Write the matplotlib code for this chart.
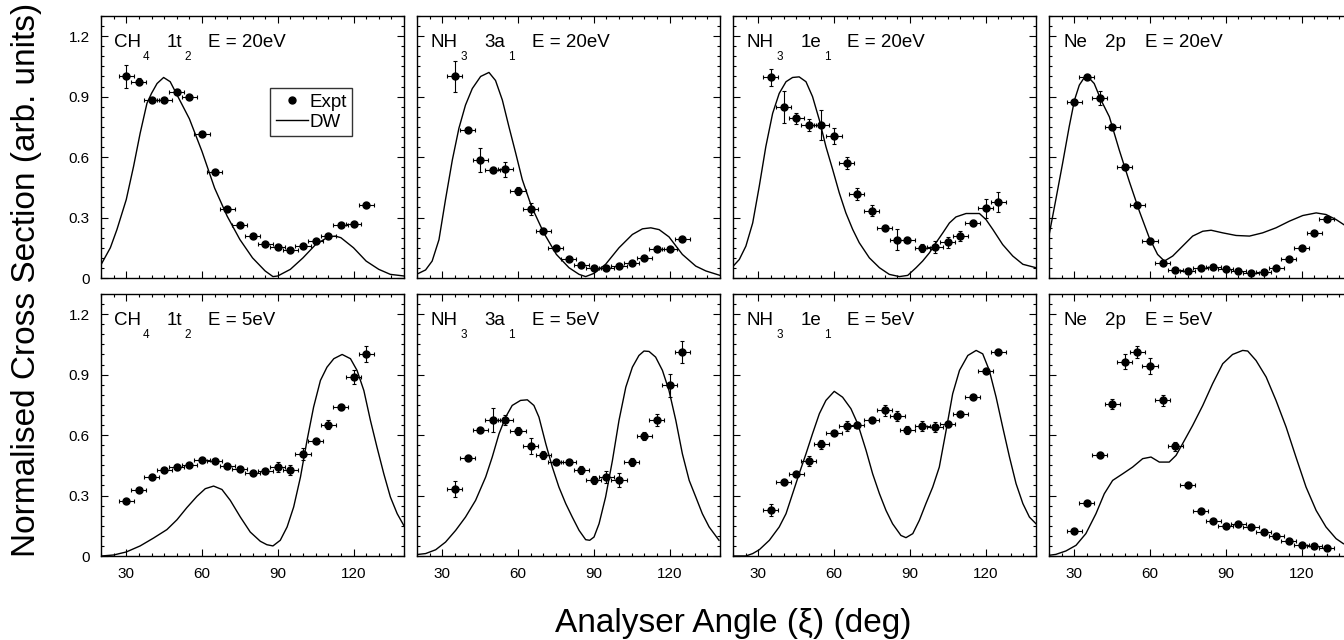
"""(e,2e) triple differential cross sections: CH4, NH3 and Ne outer orbitals.

Top row E = 20 eV, bottom row E = 5 eV. Points are experiment, line is DW theory.
"""

import numpy as np
import matplotlib
matplotlib.use("Agg")
import matplotlib.pyplot as plt
from matplotlib.lines import Line2D
from matplotlib.ticker import MultipleLocator, FuncFormatter

plt.rcParams["font.family"] = ["Liberation Sans", "DejaVu Sans"]

ANG_RES = 3.0  # angular resolution (deg), drawn as horizontal error bars

# ---- CH4 1t2, 20 eV ----
ch4_20_x = [30, 35, 40, 45, 50, 55, 60, 65, 70, 75, 80, 85, 90, 95, 100, 105, 110, 115, 120, 125]
ch4_20_y = [1.00, 0.975, 0.883, 0.883, 0.924, 0.896, 0.715, 0.524, 0.343, 0.264, 0.208, 0.168,
            0.155, 0.138, 0.161, 0.185, 0.208, 0.264, 0.267, 0.364]
ch4_20_e = [0.055, 0.015, 0.012, 0.010, 0.015, 0.010, 0.010, 0.010, 0.010, 0.010, 0.010, 0.010,
            0.010, 0.010, 0.010, 0.010, 0.012, 0.010, 0.010, 0.010]
ch4_20_dw_x = [20.1, 23.7, 26.3, 30, 32.9, 35.5, 38.2, 40, 42.2, 44.8, 47.4, 49.8, 55, 60, 65, 70,
               75, 80, 85, 88.1, 90, 95, 100, 105, 110, 112.8, 115, 120, 125, 130, 134.6, 140]
ch4_20_dw_y = [0.068, 0.15, 0.24, 0.389, 0.554, 0.718, 0.867, 0.916, 0.965, 0.995, 0.974, 0.916,
               0.79, 0.628, 0.446, 0.306, 0.191, 0.10, 0.035, 0.007, 0.01, 0.043, 0.10, 0.166,
               0.204, 0.208, 0.20, 0.15, 0.084, 0.043, 0.018, 0.01]

# ---- NH3 3a1, 20 eV ----
nh3a_20_x = [35, 40, 45, 50, 55, 60, 65, 70, 75, 80, 85, 90, 95, 100, 105, 110, 115, 120, 125]
nh3a_20_y = [1.00, 0.735, 0.585, 0.534, 0.539, 0.432, 0.344, 0.234, 0.147, 0.092, 0.063, 0.049,
             0.048, 0.061, 0.076, 0.099, 0.145, 0.145, 0.194]
nh3a_20_e = [0.078, 0.012, 0.06, 0.015, 0.037, 0.02, 0.03, 0.015, 0.01, 0.01, 0.01, 0.01,
             0.01, 0.01, 0.01, 0.01, 0.01, 0.01, 0.01]
nh3a_20_dw_x = [19.8, 23.4, 26.0, 28.7, 31.3, 34.0, 36.6, 39.2, 41.9, 45.2, 48.5, 51.1, 53.8, 56.4,
                59.1, 61.7, 65.3, 70.2, 75.2, 80.2, 84.2, 86.8, 90.1, 94.7, 100, 105.3, 109.3,
                112.6, 115.9, 119.8, 125.1, 130.4, 134.4, 140]
nh3a_20_dw_y = [0.018, 0.04, 0.084, 0.19, 0.39, 0.586, 0.743, 0.858, 0.94, 1.0, 1.02, 0.98, 0.883,
                0.751, 0.619, 0.488, 0.356, 0.224, 0.117, 0.051, 0.018, 0.007, 0.023, 0.068, 0.15,
                0.216, 0.244, 0.249, 0.24, 0.204, 0.117, 0.059, 0.035, 0.013]

# ---- NH3 1e1, 20 eV ----
nh3e_20_x = [35, 40, 45, 50, 55, 60, 65, 69, 75, 80, 85, 89, 95, 100, 105, 110, 115, 120, 125]
nh3e_20_y = [0.995, 0.85, 0.792, 0.759, 0.759, 0.705, 0.57, 0.418, 0.334, 0.247, 0.191, 0.191,
             0.148, 0.155, 0.178, 0.208, 0.273, 0.346, 0.376]
nh3e_20_e = [0.044, 0.08, 0.028, 0.028, 0.076, 0.039, 0.03, 0.029, 0.027, 0.015, 0.05, 0.01,
             0.02, 0.029, 0.027, 0.023, 0.015, 0.047, 0.049]
nh3e_20_dw_x = [20.1, 22.5, 25.1, 27.8, 30.4, 33.0, 35.7, 38.3, 41.0, 43.6, 46.2, 48.9, 51.5, 54.2,
                56.8, 59.5, 62.1, 64.7, 67.4, 70.0, 74.0, 78.0, 81.9, 85.9, 89.2, 92.5, 95.1, 97.8,
                100.4, 103.1, 105.7, 108.3, 112.3, 117.6, 120.2, 122.9, 126.8, 130.8, 134.8, 140]
nh3e_20_dw_y = [0.059, 0.092, 0.158, 0.273, 0.455, 0.652, 0.817, 0.916, 0.974, 0.995, 0.998, 0.974,
                0.90, 0.784, 0.652, 0.537, 0.422, 0.323, 0.241, 0.175, 0.10, 0.051, 0.018, 0.007,
                0.013, 0.051, 0.084, 0.125, 0.175, 0.224, 0.273, 0.303, 0.32, 0.32, 0.29, 0.241,
                0.166, 0.109, 0.068, 0.051]

# ---- Ne 2p, 20 eV ----
ne_20_x = [30, 35, 40, 45, 50, 55, 60, 65, 70, 75, 80, 85, 90, 95, 100, 105, 110, 115, 120, 125, 130]
ne_20_y = [0.875, 0.995, 0.895, 0.751, 0.549, 0.364, 0.186, 0.074, 0.038, 0.035, 0.048, 0.053,
           0.046, 0.036, 0.023, 0.028, 0.049, 0.092, 0.15, 0.224, 0.295]
ne_20_e = [0.01, 0.01, 0.035, 0.01, 0.01, 0.01, 0.01, 0.01, 0.01, 0.01, 0.01, 0.01,
           0.01, 0.01, 0.01, 0.01, 0.01, 0.01, 0.01, 0.01, 0.01]
ne_20_dw_x = [19.7, 22.7, 25.4, 28.0, 30.1, 32.0, 34.0, 35.3, 37.9, 40.6, 43.9, 47.8, 51.8, 55.8,
              59.7, 63.0, 65.7, 69.0, 72.9, 76.9, 80.9, 84.2, 88.8, 94.1, 99.4, 104.6, 109.9,
              115.2, 120.5, 125.8, 129.7, 133.7, 137.7]
ne_20_dw_y = [0.191, 0.389, 0.57, 0.751, 0.883, 0.957, 0.995, 1.0, 0.965, 0.883, 0.80, 0.636,
              0.479, 0.331, 0.20, 0.117, 0.084, 0.109, 0.158, 0.208, 0.232, 0.237, 0.224, 0.211,
              0.208, 0.224, 0.249, 0.282, 0.31, 0.323, 0.315, 0.29, 0.257]

# ---- CH4 1t2, 5 eV ----
ch4_5_x = [30, 35, 40, 45, 50, 55, 60, 65, 70, 75, 80, 85, 90, 95, 100, 105, 110, 115, 120, 125]
ch4_5_y = [0.271, 0.326, 0.392, 0.428, 0.441, 0.451, 0.478, 0.473, 0.445, 0.43, 0.413, 0.42,
           0.441, 0.425, 0.504, 0.572, 0.651, 0.739, 0.888, 1.003]
ch4_5_e = [0.01, 0.01, 0.015, 0.01, 0.012, 0.01, 0.012, 0.01, 0.012, 0.01, 0.01, 0.01,
           0.025, 0.025, 0.03, 0.01, 0.023, 0.015, 0.033, 0.038]
ch4_5_dw_x = [20.1, 25.0, 30, 35.5, 40.8, 46.1, 50.1, 54, 58, 61.3, 64.6, 67.9, 71.2, 75.2, 79.1,
              83.1, 85.7, 88.1, 91, 93.7, 96.3, 99, 101.6, 104.2, 106.9, 109.5, 112.2, 115.5,
              118.8, 121.4, 124.1, 126.7, 129.3, 132, 134.6, 137.3, 139.9]
ch4_5_dw_y = [0.0, 0.005, 0.02, 0.05, 0.089, 0.131, 0.18, 0.24, 0.296, 0.334, 0.347, 0.33, 0.276,
              0.193, 0.119, 0.073, 0.056, 0.05, 0.078, 0.144, 0.243, 0.392, 0.574, 0.739, 0.871,
              0.937, 0.979, 1.0, 0.979, 0.921, 0.821, 0.673, 0.54, 0.408, 0.293, 0.21, 0.152]

# ---- NH3 3a1, 5 eV ----
nh3a_5_x = [35, 40, 45, 50, 55, 60, 65, 70, 75, 80, 85, 90, 95, 100, 105, 110, 115, 120, 125]
nh3a_5_y = [0.332, 0.484, 0.623, 0.673, 0.673, 0.62, 0.547, 0.501, 0.466, 0.464, 0.425, 0.379,
            0.392, 0.375, 0.466, 0.597, 0.676, 0.846, 1.012]
nh3a_5_e = [0.041, 0.015, 0.01, 0.06, 0.025, 0.018, 0.04, 0.02, 0.01, 0.01, 0.02, 0.02,
            0.03, 0.035, 0.02, 0.02, 0.03, 0.056, 0.054]
nh3a_5_dw_x = [19.8, 23.4, 27.4, 31.3, 35.3, 39.2, 43.2, 47.2, 49.8, 52.5, 55.1, 57.7, 61, 63.7,
               66.3, 68.3, 71, 73.6, 76.2, 78.9, 81.5, 84.2, 86.8, 88.4, 90.1, 92.1, 94.7, 97.4,
               100, 102.7, 105.3, 107.9, 109.9, 111.9, 114.5, 117.2, 119.8, 122.5, 125.1, 127.8,
               130.4, 133, 135.7, 139.6]
nh3a_5_dw_y = [0.007, 0.012, 0.031, 0.069, 0.127, 0.193, 0.276, 0.392, 0.491, 0.607, 0.689, 0.747,
               0.772, 0.775, 0.747, 0.689, 0.557, 0.441, 0.342, 0.26, 0.193, 0.127, 0.081, 0.078,
               0.094, 0.16, 0.293, 0.474, 0.673, 0.838, 0.937, 0.995, 1.017, 1.015, 0.987, 0.921,
               0.821, 0.673, 0.507, 0.375, 0.293, 0.21, 0.144, 0.078]

# ---- NH3 1e1, 5 eV ----
nh3e_5_x = [35, 40, 45, 50, 55, 60, 65, 69, 75, 80, 85, 89, 95, 100, 105, 110, 115, 120, 125]
nh3e_5_y = [0.226, 0.367, 0.408, 0.471, 0.555, 0.61, 0.645, 0.648, 0.676, 0.722, 0.693, 0.623,
            0.643, 0.64, 0.656, 0.706, 0.788, 0.917, 1.012]
nh3e_5_e = [0.03, 0.015, 0.01, 0.023, 0.022, 0.01, 0.025, 0.015, 0.015, 0.026, 0.025, 0.02,
            0.025, 0.025, 0.015, 0.01, 0.01, 0.01, 0.015]
nh3e_5_dw_x = [20.1, 25.1, 27.8, 30.4, 34.4, 38.3, 41.0, 43.6, 46.2, 48.9, 51.5, 54.2, 56.8, 60.1,
               63.4, 66.7, 69.4, 72.7, 75.3, 78.0, 80.6, 83.2, 86.5, 88.5, 91.2, 93.8, 96.4, 99.1,
               101.7, 104.4, 107.0, 109.7, 113.0, 116.3, 118.9, 121.5, 124.2, 126.8, 129.5, 132.1,
               134.8, 137.4, 140.0]
nh3e_5_dw_y = [0.0, 0.0, 0.012, 0.031, 0.078, 0.144, 0.21, 0.309, 0.408, 0.507, 0.607, 0.706, 0.772,
               0.817, 0.788, 0.731, 0.656, 0.524, 0.408, 0.309, 0.226, 0.16, 0.102, 0.091, 0.111,
               0.177, 0.26, 0.342, 0.441, 0.623, 0.805, 0.921, 0.995, 1.02, 1.003, 0.921, 0.788,
               0.64, 0.491, 0.359, 0.26, 0.193, 0.16]

# ---- Ne 2p, 5 eV ----
ne_5_x = [30, 35, 40, 45, 50, 55, 60, 65, 70, 75, 80, 85, 90, 95, 100, 105, 110, 115, 120, 125, 130]
ne_5_y = [0.124, 0.263, 0.499, 0.752, 0.965, 1.012, 0.942, 0.772, 0.544, 0.35, 0.221, 0.172,
          0.149, 0.16, 0.145, 0.117, 0.099, 0.076, 0.056, 0.048, 0.038]
ne_5_e = [0.01, 0.01, 0.015, 0.025, 0.037, 0.029, 0.039, 0.026, 0.024, 0.01, 0.01, 0.01,
          0.01, 0.01, 0.01, 0.01, 0.01, 0.01, 0.01, 0.01, 0.01]
ne_5_dw_x = [19.7, 22.7, 26.7, 30.7, 34.6, 38.6, 41.9, 45.2, 49.2, 53.1, 57.1, 60.4, 63.7, 67.6,
             70.3, 72.9, 76.9, 80.9, 84.8, 88.8, 92.7, 96.7, 98.7, 102.0, 106.0, 109.9, 113.9,
             117.8, 121.8, 125.8, 129.7, 133.7, 136.6]
ne_5_dw_y = [0.003, 0.008, 0.025, 0.053, 0.111, 0.21, 0.309, 0.375, 0.408, 0.441, 0.483, 0.491,
             0.466, 0.466, 0.499, 0.557, 0.648, 0.747, 0.855, 0.954, 1.0, 1.02, 1.017, 0.97,
             0.888, 0.772, 0.64, 0.491, 0.342, 0.226, 0.144, 0.086, 0.061]

# Title pieces: (text, x in axes fraction, is_subscript)
CH4_1T2 = [("CH", 0.043, False), ("4", 0.139, True), ("1t", 0.218, False), ("2", 0.274, True)]
NH3_3A1 = [("NH", 0.046, False), ("3", 0.144, True), ("3a", 0.222, False), ("1", 0.300, True)]
NH3_1E1 = [("NH", 0.046, False), ("3", 0.144, True), ("1e", 0.222, False), ("1", 0.300, True)]
NE_2P = [("Ne", 0.047, False), ("2p", 0.185, False)]

panels = [
    # row, col, title parts, energy x-position, energy label, data
    (0, 0, CH4_1T2, 0.353, "E = 20eV", ch4_20_x, ch4_20_y, ch4_20_e, ch4_20_dw_x, ch4_20_dw_y),
    (0, 1, NH3_3A1, 0.378, "E = 20eV", nh3a_20_x, nh3a_20_y, nh3a_20_e, nh3a_20_dw_x, nh3a_20_dw_y),
    (0, 2, NH3_1E1, 0.375, "E = 20eV", nh3e_20_x, nh3e_20_y, nh3e_20_e, nh3e_20_dw_x, nh3e_20_dw_y),
    (0, 3, NE_2P, 0.317, "E = 20eV", ne_20_x, ne_20_y, ne_20_e, ne_20_dw_x, ne_20_dw_y),
    (1, 0, CH4_1T2, 0.353, "E = 5eV", ch4_5_x, ch4_5_y, ch4_5_e, ch4_5_dw_x, ch4_5_dw_y),
    (1, 1, NH3_3A1, 0.378, "E = 5eV", nh3a_5_x, nh3a_5_y, nh3a_5_e, nh3a_5_dw_x, nh3a_5_dw_y),
    (1, 2, NH3_1E1, 0.375, "E = 5eV", nh3e_5_x, nh3e_5_y, nh3e_5_e, nh3e_5_dw_x, nh3e_5_dw_y),
    (1, 3, NE_2P, 0.317, "E = 5eV", ne_5_x, ne_5_y, ne_5_e, ne_5_dw_x, ne_5_dw_y),
]

W, H = 1344, 640
fig = plt.figure(figsize=(W / 100, H / 100), dpi=100)

# panel geometry in pixels (the last column runs slightly past the right edge)
col_left = [101, 417, 733, 1049]
row_top = [16, 294]
pw, ph = 303, 262


def title(ax, parts, ex, energy):
    for s, x, sub in parts:
        if sub:
            ax.text(x, 0.832, s, transform=ax.transAxes, fontsize=8.5, va="baseline")
        else:
            ax.text(x, 0.882, s, transform=ax.transAxes, fontsize=13.5, va="baseline")
    ax.text(ex, 0.882, energy, transform=ax.transAxes, fontsize=13.5, va="baseline")


for row, col, parts, ex, energy, x, y, e, dwx, dwy in panels:
    ax = fig.add_axes([col_left[col] / W, 1 - (row_top[row] + ph) / H, pw / W, ph / H])
    ax.plot(dwx, dwy, "k-", lw=1.0)
    ax.errorbar(x, y, xerr=ANG_RES, yerr=e, fmt="o", color="k", ms=5,
                elinewidth=0.8, capsize=1.3, capthick=0.8)

    ax.set_xlim(20, 140)
    ax.set_ylim(0, 1.3)
    ax.xaxis.set_major_locator(MultipleLocator(30))
    ax.xaxis.set_minor_locator(MultipleLocator(5))
    ax.yaxis.set_major_locator(MultipleLocator(0.3))
    ax.yaxis.set_minor_locator(MultipleLocator(0.05))
    ax.yaxis.set_major_formatter(FuncFormatter(lambda v, p: "0" if abs(v) < 1e-9 else f"{v:.1f}"))
    ax.tick_params(which="both", direction="in", top=True, right=True, width=0.8, labelsize=11)
    ax.tick_params(which="major", length=5)
    ax.tick_params(which="minor", length=2.5)
    ax.tick_params(axis="x", pad=8)
    ax.tick_params(axis="y", pad=8)
    for sp in ax.spines.values():
        sp.set_linewidth(1.0)
    if row == 0:
        ax.set_xticklabels([])
    if col != 0:
        ax.set_yticklabels([])

    title(ax, parts, ex, energy)

    if row == 0 and col == 0:
        handles = [Line2D([], [], color="k", marker="o", ls="none", ms=5),
                   Line2D([], [], color="k", lw=1.0)]
        leg = ax.legend(handles, ["Expt", "DW"], loc="upper left",
                        bbox_to_anchor=(0.558, 0.725), borderaxespad=0, fontsize=13.5,
                        frameon=True, fancybox=False, handlelength=1.7, handletextpad=0.1,
                        labelspacing=0.15, borderpad=0.3)
        leg.get_frame().set_edgecolor("k")
        leg.get_frame().set_linewidth(1.0)

fig.text(27 / W, 1 - 280 / H, "Normalised Cross Section (arb. units)", rotation=90,
         ha="center", va="center", fontsize=24)
fig.text(733 / W, 1 - 632 / H, "Analyser Angle (\u03be) (deg)", ha="center", va="baseline",
         fontsize=24)

fig.savefig("out.png", dpi=100)
